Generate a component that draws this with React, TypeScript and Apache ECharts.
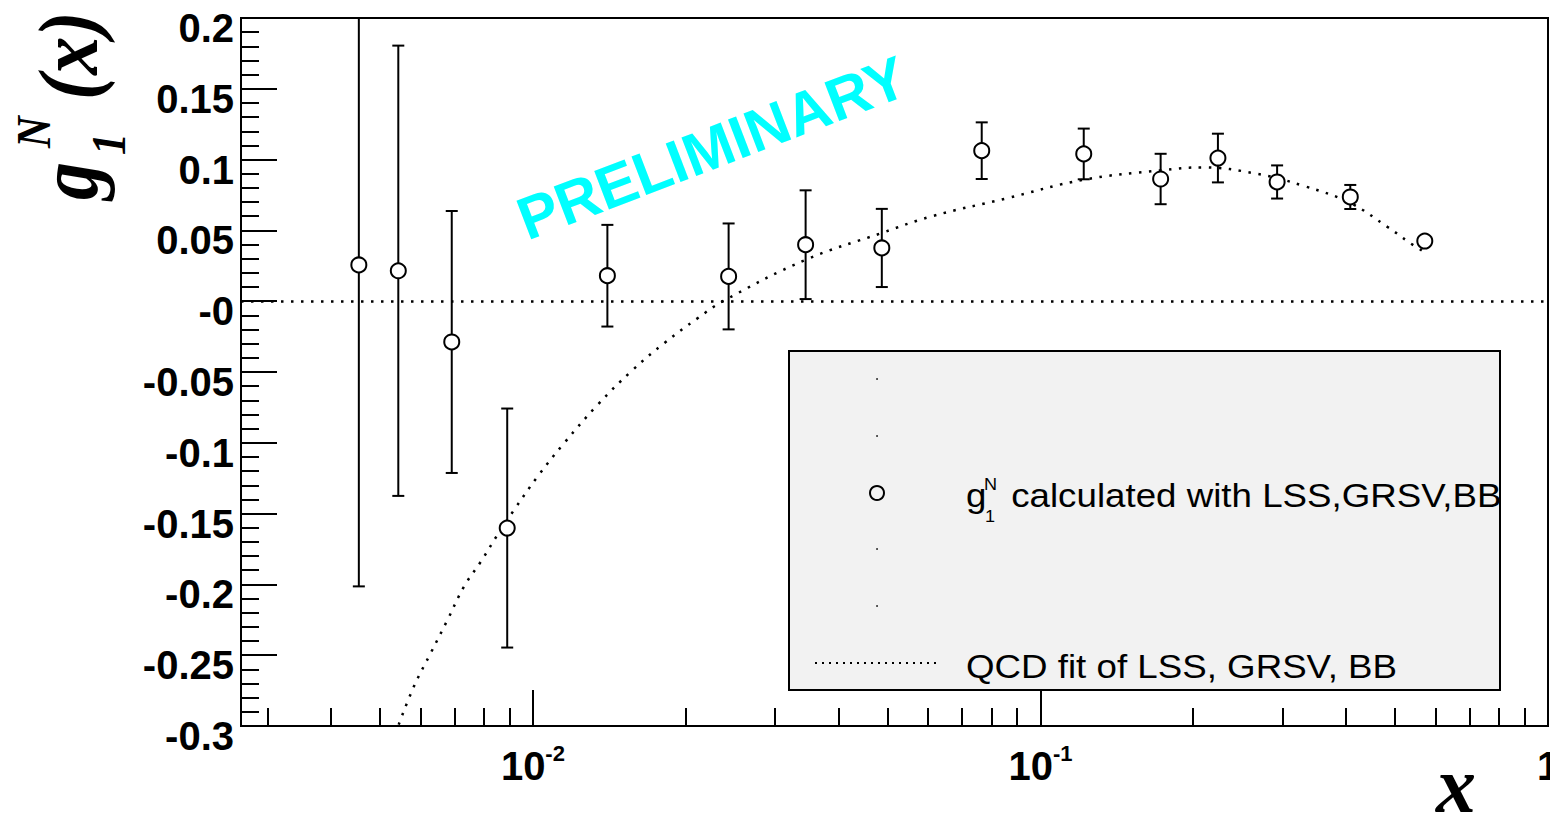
import React, { useEffect, useRef } from 'react';
import * as echarts from 'echarts';

// ---- data ----
const xValues = [0.00454, 0.00543, 0.00692, 0.0089, 0.01402, 0.0243, 0.03446, 0.04869, 0.07661, 0.1217, 0.1725, 0.2237, 0.2926, 0.4078, 0.5718];
const g1Values = [0.0256, 0.0215, -0.0288, -0.1602, 0.018, 0.0175, 0.0399, 0.0376, 0.1063, 0.104, 0.0863, 0.1011, 0.0842, 0.0736, 0.0425];
const g1Errors = [0.227, 0.159, 0.0925, 0.0844, 0.0359, 0.0374, 0.0384, 0.0276, 0.02, 0.0179, 0.0178, 0.0172, 0.0117, 0.0085, 0.003];

const fitX = [0.00544, 0.00583, 0.00629, 0.00679, 0.00732, 0.0079, 0.00852, 0.00919, 0.01022, 0.01153, 0.01342, 0.01561, 0.01816, 0.02114, 0.02368, 0.0345, 0.0487, 0.061, 0.0859, 0.1217, 0.1725, 0.2087, 0.2668, 0.3311, 0.408, 0.483, 0.533, 0.568];
const fitY = [-0.299, -0.272, -0.2485, -0.225, -0.2014, -0.1838, -0.1649, -0.1472, -0.1237, -0.1001, -0.0731, -0.0496, -0.0295, -0.0119, 0.0, 0.0293, 0.0482, 0.0599, 0.0727, 0.0858, 0.0924, 0.0945, 0.09, 0.0813, 0.0693, 0.0524, 0.0415, 0.0351];

const xMajorTicks = [0.01, 0.1, 1];
const xMinorTicks = [0.003, 0.004, 0.005, 0.006, 0.007, 0.008, 0.009, 0.02, 0.03, 0.04, 0.05, 0.06, 0.07, 0.08, 0.09, 0.2, 0.3, 0.4, 0.5, 0.6, 0.7, 0.8, 0.9];

const X_MIN = 0.00266;
const X_MAX = 1;
const Y_MIN = -0.3;
const Y_MAX = 0.2;
const Y_STEP = 0.05;

const legendLabel1 = ' calculated with LSS,GRSV,BB';
const legendLabel2 = 'QCD fit of LSS, GRSV, BB';

export default function App() {
  const ref = useRef<HTMLDivElement>(null);

  useEffect(() => {
    if (!ref.current) return;
    const chart = echarts.init(ref.current, null, { renderer: 'svg' });
    const sans = "'Liberation Sans', Arial, Helvetica, sans-serif";
    const serif = "'Liberation Serif', 'Times New Roman', serif";
    const dotted = [2.5, 7.5];
    const black = '#000';

    const logFmt = (v: number) => {
      const e = Math.round(Math.log10(v));
      return e === 0 ? '{a|1}' : `{a|10}{b|${e}}`;
    };

    const yFmt = (v: number) => {
      if (Math.abs(v) < 1e-9) return '-0';
      return String(Number(v.toFixed(2)));
    };

    const errData = xValues.map((x, i) => [x, g1Values[i], g1Errors[i]]);
    const ptData = xValues.map((x, i) => [x, g1Values[i]]);
    const fitData = fitX.map((x, i) => [x, fitY[i]]);

    const option: any = {
      animation: false,
      backgroundColor: '#fff',
      grid: {
        left: 241, right: 2, top: 18, bottom: 96,
        show: true, borderColor: black, borderWidth: 2, backgroundColor: 'transparent',
        containLabel: false, outerBoundsMode: 'none',
      },
      xAxis: [
        {
          type: 'log', logBase: 10, min: X_MIN, max: X_MAX, position: 'bottom',
          axisLine: { show: true, onZero: false, lineStyle: { color: black, width: 2 } },
          axisTick: { show: true, inside: true, length: 36, customValues: xMajorTicks, lineStyle: { color: black, width: 2 } },
          axisLabel: {
            show: true, customValues: xMajorTicks, margin: 16, formatter: logFmt,
            showMinLabel: true, showMaxLabel: true, hideOverlap: false,
            rich: {
              a: { fontSize: 40, fontWeight: 'bold', fontFamily: sans, color: black, lineHeight: 44, verticalAlign: 'bottom' },
              b: { fontSize: 22, fontWeight: 'bold', fontFamily: sans, color: black, lineHeight: 22, verticalAlign: 'top' },
            },
          },
          splitLine: { show: false }, minorTick: { show: false }, minorSplitLine: { show: false },
        },
        {
          type: 'log', logBase: 10, min: X_MIN, max: X_MAX, position: 'bottom',
          axisLine: { show: false, onZero: false },
          axisTick: { show: true, inside: true, length: 18, customValues: xMinorTicks, lineStyle: { color: black, width: 2 } },
          axisLabel: { show: false },
          splitLine: { show: false }, minorTick: { show: false }, minorSplitLine: { show: false },
        },
      ],
      yAxis: {
        type: 'value', min: Y_MIN, max: Y_MAX, interval: Y_STEP,
        axisLine: { show: true, onZero: false, lineStyle: { color: black, width: 2 } },
        axisTick: { show: true, inside: true, length: 36, lineStyle: { color: black, width: 2 } },
        minorTick: { show: true, splitNumber: 5, length: 18, lineStyle: { color: black, width: 2 } },
        axisLabel: {
          show: true, margin: 7, formatter: yFmt, color: black,
          fontSize: 40, fontWeight: 'bold', fontFamily: sans,
          verticalAlign: 'top', lineHeight: 20,
          showMinLabel: true, showMaxLabel: true, hideOverlap: false,
        },
        splitLine: { show: false }, minorSplitLine: { show: false },
      },
      series: [
        {
          type: 'custom',
          xAxisIndex: 0,
          yAxisIndex: 0,
          data: errData,
          z: 3,
          silent: true,
          renderItem: (params: any, api: any) => {
            const x = api.value(0);
            const y = api.value(1);
            const e = api.value(2);
            const hi = Math.min(y + e, Y_MAX);
            const lo = Math.max(y - e, Y_MIN);
            const top = api.coord([x, hi]);
            const bot = api.coord([x, lo]);
            const cw = 6;
            const st = { stroke: black, lineWidth: 2 };
            return {
              type: 'group',
              children: [
                { type: 'line', shape: { x1: top[0], y1: top[1], x2: bot[0], y2: bot[1] }, style: st },
                { type: 'line', shape: { x1: top[0] - cw, y1: top[1], x2: top[0] + cw, y2: top[1] }, style: st },
                { type: 'line', shape: { x1: bot[0] - cw, y1: bot[1], x2: bot[0] + cw, y2: bot[1] }, style: st },
              ],
            };
          },
        },
        {
          type: 'line',
          xAxisIndex: 0,
          yAxisIndex: 0,
          data: fitData,
          showSymbol: false,
          symbol: 'none',
          smooth: 0.4,
          z: 2,
          silent: true,
          lineStyle: { color: black, width: 2.5, type: dotted },
        },
        {
          type: 'scatter',
          xAxisIndex: 0,
          yAxisIndex: 0,
          data: ptData,
          symbol: 'circle',
          symbolSize: 15,
          z: 4,
          silent: true,
          itemStyle: { color: '#fff', borderColor: black, borderWidth: 2, opacity: 1 },
          markLine: {
            silent: true,
            symbol: ['none', 'none'],
            label: { show: false },
            lineStyle: { color: black, width: 2.5, type: dotted },
            emphasis: { disabled: true },
            data: [{ yAxis: 0 }],
          },
        },
      ],
      graphic: [
        // y axis title g_1^N(x)
        {
          type: 'group', x: 97, y: 200, rotation: Math.PI / 2, scaleY: 1.1,
          children: [
            { type: 'text', x: 0, y: -25.6, style: { text: 'g', fontSize: 76, fontStyle: 'italic', fontWeight: 'bold', fontFamily: serif, fill: black, textAlign: 'left', textVerticalAlign: 'middle' } },
            { type: 'text', x: 45, y: 10.6, style: { text: '1', fontSize: 44, fontStyle: 'italic', fontWeight: 'bold', fontFamily: serif, fill: black, textAlign: 'left', textVerticalAlign: 'middle' } },
            { type: 'text', x: 52, y: -57.6, style: { text: 'N', fontSize: 44, fontStyle: 'italic', fontWeight: 'bold', fontFamily: serif, fill: black, textAlign: 'left', textVerticalAlign: 'middle' } },
            { type: 'text', x: 100, y: -25.6, style: { text: '(x)', fontSize: 76, fontStyle: 'italic', fontWeight: 'bold', fontFamily: serif, fill: black, textAlign: 'left', textVerticalAlign: 'middle' } },
          ],
        },
        // x axis title
        { type: 'text', x: 1456, y: 785, style: { text: 'x', fontSize: 80, fontStyle: 'italic', fontWeight: 'bold', fontFamily: serif, fill: black, textAlign: 'center', textVerticalAlign: 'middle' } },
        // PRELIMINARY
        { type: 'text', x: 712, y: 148, rotation: 21 * Math.PI / 180, style: { text: 'PRELIMINARY', fontSize: 60, fontWeight: 'bold', fontFamily: sans, fill: '#00ffff', textAlign: 'center', textVerticalAlign: 'middle' } },
        // legend box
        { type: 'rect', shape: { x: 789, y: 351, width: 711, height: 339 }, style: { fill: '#f2f2f2', stroke: black, lineWidth: 2 }, z: 10 },
        { type: 'circle', shape: { cx: 877, cy: 379, r: 0.8 }, style: { fill: black }, z: 11 },
        { type: 'circle', shape: { cx: 877, cy: 436, r: 0.8 }, style: { fill: black }, z: 11 },
        { type: 'circle', shape: { cx: 877, cy: 493, r: 7 }, style: { fill: 'none', stroke: black, lineWidth: 2 }, z: 11 },
        { type: 'circle', shape: { cx: 877, cy: 549, r: 0.8 }, style: { fill: black }, z: 11 },
        { type: 'circle', shape: { cx: 877, cy: 606, r: 0.8 }, style: { fill: black }, z: 11 },
        { type: 'line', shape: { x1: 815, y1: 663, x2: 937, y2: 663 }, style: { stroke: black, lineWidth: 2, lineDash: [2, 5] }, z: 11 },
        { type: 'text', x: 966, y: 495.5, scaleX: 1.13, z: 11, style: { text: 'g', fontSize: 32.5, fontFamily: sans, fill: black, textAlign: 'left', textVerticalAlign: 'middle' } },
        { type: 'text', x: 984, y: 484.5, scaleX: 1.13, z: 11, style: { text: 'N', fontSize: 16, fontFamily: sans, fill: black, textAlign: 'left', textVerticalAlign: 'middle' } },
        { type: 'text', x: 985, y: 517, scaleX: 1.13, z: 11, style: { text: '1', fontSize: 16, fontFamily: sans, fill: black, textAlign: 'left', textVerticalAlign: 'middle' } },
        { type: 'text', x: 1001, y: 495.5, scaleX: 1.13, z: 11, style: { text: legendLabel1, fontSize: 32.5, fontFamily: sans, fill: black, textAlign: 'left', textVerticalAlign: 'middle' } },
        { type: 'text', x: 966, y: 667, scaleX: 1.13, z: 11, style: { text: legendLabel2, fontSize: 32.5, fontFamily: sans, fill: black, textAlign: 'left', textVerticalAlign: 'middle' } },
      ],
    };

    chart.setOption(option);
    return () => chart.dispose();
  }, []);

  return (
    <div
      ref={ref}
      style={{ position: 'fixed', left: 0, top: 0, width: 1550, height: 822, background: '#fff' }}
    />
  );
}
